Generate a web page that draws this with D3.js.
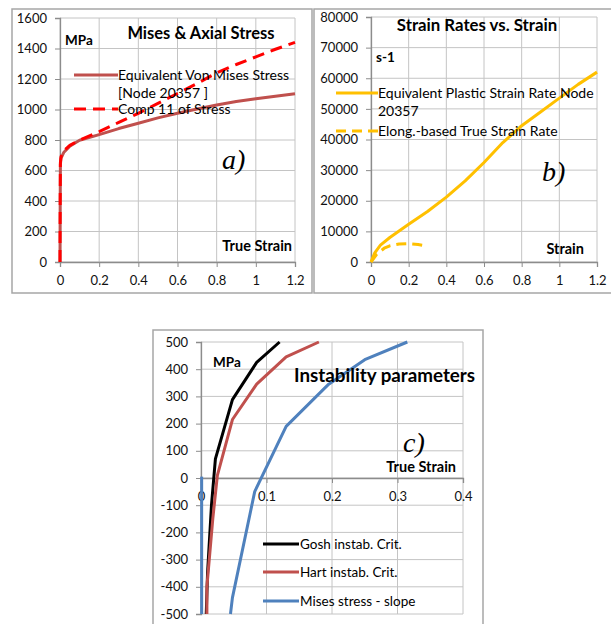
<!DOCTYPE html>
<html><head><meta charset="utf-8">
<script src="https://cdn.jsdelivr.net/npm/d3@7"></script>
<style>
body{margin:0;background:#fff;}
</style></head>
<body><svg id="c" width="611" height="624"></svg>
<script>
// ---- Panel a data (True strain vs MPa)
const misesStress = [[0,0],[0.001,400],[0.002,640],[0.005,680],[0.02,720],[0.05,760],[0.1,798],[0.2,835],[0.3,875],[0.4,910],[0.5,945],[0.6,975],[0.7,1003],[0.8,1030],[0.9,1052],[1.0,1070],[1.1,1087],[1.2,1103]];
const comp11Stress = [[0,0],[0.001,400],[0.002,650],[0.005,690],[0.02,730],[0.05,765],[0.1,800],[0.2,855],[0.3,915],[0.4,975],[0.5,1040],[0.6,1105],[0.7,1170],[0.8,1240],[0.9,1295],[1.0,1345],[1.1,1395],[1.2,1440]];
const aXTicks = [0,0.2,0.4,0.6,0.8,1,1.2];
const aYTicks = [0,200,400,600,800,1000,1200,1400,1600];

// ---- Panel b data (strain rates)
const plasticStrainRate = [[0,0],[0.02,3000],[0.05,5500],[0.1,8000],[0.2,12300],[0.3,16500],[0.4,21200],[0.5,26500],[0.6,32500],[0.7,39000],[0.8,44500],[0.9,49000],[1.0,53500],[1.1,58000],[1.2,62000]];
const elongStrainRate = [[0,0],[0.03,2500],[0.07,4500],[0.1,5300],[0.15,5900],[0.2,6000],[0.25,5700],[0.28,5400]];
const bXTicks = [0,0.2,0.4,0.6,0.8,1,1.2];
const bYTicks = [0,10000,20000,30000,40000,50000,60000,70000,80000];

// ---- Panel c data (instability parameters)
const goshCrit = [[0.008,-500],[0.01,-350],[0.016,-100],[0.022,70],[0.048,288],[0.085,425],[0.12,500]];
const hartCrit = [[0.009,-500],[0.009,-400],[0.018,-150],[0.025,10],[0.048,215],[0.085,345],[0.13,445],[0.18,500]];
const misesSlope = [[0.045,-500],[0.048,-440],[0.082,-50],[0.13,190],[0.195,345],[0.25,435],[0.315,500]];
const misesSlopeElastic = [[0.001,5],[0.001,-500]];
const cXTicks = [0,0.1,0.2,0.3,0.4];
const cYTicks = [-500,-400,-300,-200,-100,0,100,200,300,400,500];

const svg = d3.select("#c");
const GRID = "#c4c4c4", AXIS = "#8c8c8c", BORDER = "#a6a6a6";
const SANS = "Lato, 'Open Sans', sans-serif";

// panel borders
svg.append("rect").attr("x",12).attr("y",9).attr("width",300).attr("height",284).attr("fill","none").attr("stroke",BORDER).attr("stroke-width",1.5);
svg.append("rect").attr("x",314).attr("y",9).attr("width",320).attr("height",284).attr("fill","none").attr("stroke",BORDER).attr("stroke-width",1.5);
svg.append("rect").attr("x",153).attr("y",330).attr("width",330).attr("height",320).attr("fill","none").attr("stroke",BORDER).attr("stroke-width",1.5);

let clipId = 0;
function panel(o){
  const g = svg.append("g");
  const x = d3.scaleLinear().domain(o.xd).range([o.l,o.r]);
  const y = d3.scaleLinear().domain(o.yd).range([o.b,o.t]);
  g.selectAll(".hg").data(o.yt).join("line").attr("x1",o.l).attr("x2",o.r).attr("y1",d=>y(d)).attr("y2",d=>y(d)).attr("stroke",GRID).attr("stroke-width",1);
  g.selectAll(".vg").data(o.xt).join("line").attr("y1",o.t).attr("y2",o.b).attr("x1",d=>x(d)).attr("x2",d=>x(d)).attr("stroke",GRID).attr("stroke-width",1);
  const ya = g.append("g").attr("transform",`translate(${x(0)},0)`).call(d3.axisLeft(y).tickValues(o.yt).tickSize(5).tickPadding(8).tickFormat(d=>String(d)));
  const xa = g.append("g").attr("transform",`translate(0,${y(0)})`).call(d3.axisBottom(x).tickValues(o.xt).tickSize(5).tickPadding(9).tickFormat(d=>String(d)));
  [ya,xa].forEach(a=>{
    a.select(".domain").attr("stroke",AXIS).attr("stroke-width",1.3);
    a.selectAll(".tick line").attr("stroke",AXIS);
    a.selectAll("text").attr("font-size",13).attr("fill","#111").style("font-family",SANS);
  });
  const id = "clip"+(clipId++);
  svg.append("clipPath").attr("id",id).append("rect").attr("x",o.l-2).attr("y",o.t-2).attr("width",o.r-o.l+4).attr("height",o.b-o.t+4);
  const lg = svg.append("g").attr("clip-path",`url(#${id})`);
  const line = d3.line().x(d=>x(d[0])).y(d=>y(d[1]));
  o.series.forEach(s=>{
    lg.append("path").attr("d",line(s.data)).attr("fill","none").attr("stroke",s.color).attr("stroke-width",3)
      .attr("stroke-dasharray",s.dash||null).attr("stroke-linejoin","round");
  });
  return {x,y};
}

panel({l:60,r:295,t:18,b:262,xd:[0,1.2],yd:[0,1600],xt:aXTicks,yt:aYTicks,
  series:[{data:misesStress,color:"#c0504d"},{data:comp11Stress,color:"#ff0000",dash:"12,7"}]});
panel({l:371,r:597,t:17,b:262,xd:[0,1.2],yd:[0,80000],xt:bXTicks,yt:bYTicks,
  series:[{data:plasticStrainRate,color:"#ffc000"},{data:elongStrainRate,color:"#ffc000",dash:"10,6"}]});
panel({l:201,r:463,t:342,b:614,xd:[0,0.4],yd:[-500,500],xt:cXTicks,yt:cYTicks,
  series:[{data:goshCrit,color:"#000000"},{data:hartCrit,color:"#c0504d"},{data:misesSlope,color:"#4f81bd"},{data:misesSlopeElastic,color:"#4f81bd"}]});

function txt(x,y,s,opt={}){
  const t = svg.append("text").attr("x",x).attr("y",y).text(s)
    .attr("font-size",opt.size||13).attr("fill","#000")
    .attr("font-weight",opt.bold?"bold":"normal")
    .attr("text-anchor",opt.anchor||"start");
  if(opt.serif) t.style("font-family","'Liberation Serif', 'Times New Roman', serif").style("font-style","italic");
  else t.style("font-family",SANS);
  return t;
}
function legLine(x1,x2,y,color,dash){
  svg.append("line").attr("x1",x1).attr("x2",x2).attr("y1",y).attr("y2",y).attr("stroke",color).attr("stroke-width",3).attr("stroke-dasharray",dash||null);
}

// Panel a labels
txt(201,39,"Mises & Axial Stress",{bold:true,size:16.5,anchor:"middle"});
txt(65,45,"MPa",{bold:true,size:13.5});
legLine(74,118,75,"#c0504d");
txt(118,80,"Equivalent Von Mises Stress",{size:14});
txt(118,98,"[Node 20357 ]",{size:14});
legLine(74,118,109,"#ff0000","12,7");
txt(118,114,"Comp 11 of Stress",{size:14});
txt(222,169,"a)",{serif:true,size:28});
txt(292,251,"True Strain",{bold:true,size:14.5,anchor:"end"});

// Panel b labels
txt(477,31,"Strain Rates vs. Strain",{bold:true,size:16.8,anchor:"middle"});
txt(376,62,"s-1",{bold:true,size:13.5});
legLine(336,378,93,"#ffc000");
txt(378,98,"Equivalent Plastic Strain Rate Node",{size:14});
txt(378,116,"20357",{size:14});
legLine(336,378,131,"#ffc000","10,6");
txt(378,136,"Elong.-based True Strain Rate",{size:14});
txt(542,181,"b)",{serif:true,size:28});
txt(584,254,"Strain",{bold:true,size:14.5,anchor:"end"});

// Panel c labels
txt(213,367,"MPa",{bold:true,size:13.5});
txt(294,382,"Instability parameters",{bold:true,size:18.8});
txt(403,452,"c)",{serif:true,size:28});
txt(456,472,"True Strain",{bold:true,size:14.5,anchor:"end"});
legLine(263,299,544,"#000000");
txt(300,549,"Gosh instab. Crit.",{size:13.5});
legLine(263,299,572,"#c0504d");
txt(300,577,"Hart instab. Crit.",{size:13.5});
legLine(263,299,601,"#4f81bd");
txt(300,606,"Mises stress - slope",{size:13.5});
</script></body></html>
